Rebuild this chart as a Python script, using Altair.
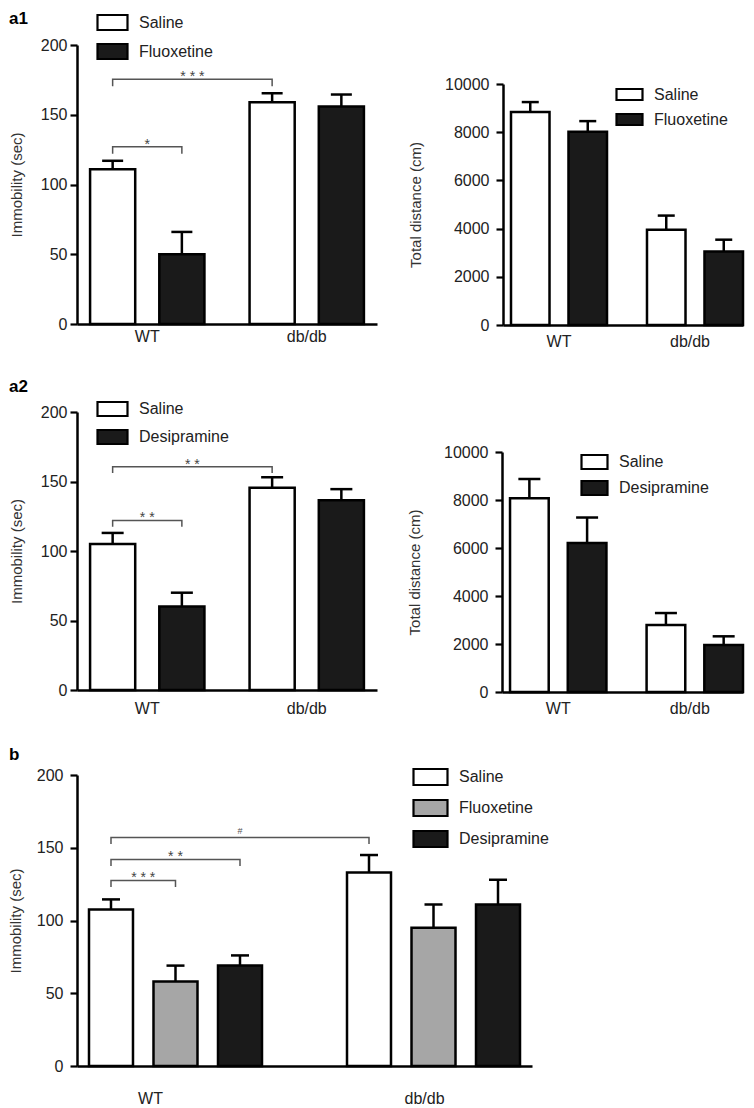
import altair as alt
import pandas as pd

FONT = "Liberation Sans"
groups = ["WT", "db/db"]

# ---------------- panel a1 ----------------
a1_treatments = ["Saline", "Fluoxetine"]
a1_imm_mean = [111, 50, 159, 156]          # WT-Saline, WT-Fluox, db-Saline, db-Fluox
a1_imm_err = [6, 16, 6.5, 8.5]
a1_dist_mean = [8840, 8020, 3950, 3050]
a1_dist_err = [410, 440, 590, 490]
a1_br_from_group = ["WT", "WT"]
a1_br_from_treat = ["Saline", "Saline"]
a1_br_to_group = ["db/db", "WT"]
a1_br_to_treat = ["Saline", "Fluoxetine"]
a1_br_height = [175.5, 127]
a1_br_label = ["* * *", "*"]

# ---------------- panel a2 ----------------
a2_treatments = ["Saline", "Desipramine"]
a2_imm_mean = [105, 60, 145.5, 136.5]
a2_imm_err = [8, 10, 7.5, 8]
a2_dist_mean = [8070, 6210, 2790, 1960]
a2_dist_err = [800, 1060, 500, 360]
a2_br_from_group = ["WT", "WT"]
a2_br_from_treat = ["Saline", "Saline"]
a2_br_to_group = ["db/db", "WT"]
a2_br_to_treat = ["Saline", "Desipramine"]
a2_br_height = [160.7, 122]
a2_br_label = ["* *", "* *"]

# ---------------- panel b ----------------
b_treatments = ["Saline", "Fluoxetine", "Desipramine"]
b_imm_mean = [107.5, 58, 69, 133, 95, 111]
b_imm_err = [7, 11, 7, 12, 16, 17]
b_br_from_group = ["WT", "WT", "WT"]
b_br_from_treat = ["Saline", "Saline", "Saline"]
b_br_to_group = ["db/db", "WT", "WT"]
b_br_to_treat = ["Saline", "Desipramine", "Fluoxetine"]
b_br_height = [157, 142, 127.5]
b_br_label = ["#", "* *", "* * *"]

imm_ticks = [0, 50, 100, 150, 200]
dist_ticks = [0, 2000, 4000, 6000, 8000, 10000]
panel_letters = ["a1", "a2", "b"]

WHITE, BLACK, GREY = "#ffffff", "#1a1a1a", "#a6a6a6"
W, H = 738, 1100          # whole drawing area (page minus the 8px margin)


def bars_frame(treatments, means, errs):
    rows, k = [], 0
    for g in groups:
        for t in treatments:
            rows.append({"group": g, "treat": t, "mean": means[k], "upper": means[k] + errs[k]})
            k += 1
    return pd.DataFrame(rows)


def bracket_frame(fg, ft, tg, tt, hs, labels, drop):
    return pd.DataFrame({"ga": fg, "ta": ft, "gb": tg, "tb": tt, "h": hs,
                         "low": [h - drop for h in hs], "label": labels})


def bracket_path(brdf):
    rows = []
    for i, r in brdf.iterrows():
        rows.append({"bid": i, "seq": 0, "group": r.ga, "treat": r.ta, "yv": r.low})
        rows.append({"bid": i, "seq": 1, "group": r.ga, "treat": r.ta, "yv": r.h})
        rows.append({"bid": i, "seq": 2, "group": r.gb, "treat": r.tb, "yv": r.h})
        rows.append({"bid": i, "seq": 3, "group": r.gb, "treat": r.tb, "yv": r.low})
    return pd.DataFrame(rows)


def make_legend(x, y, half, size, rowpad):
    return alt.Legend(title=None, orient="none", legendX=x, legendY=y, direction="vertical",
                      symbolType=f"M-1,-{half}H1V{half}H-1Z", symbolSize=size,
                      symbolStrokeColor="black", symbolStrokeWidth=2.2, symbolOpacity=1,
                      labelFontSize=16, labelColor="#222", labelOffset=10, labelFont=FONT,
                      rowPadding=rowpad, padding=0)


def make_panel(name, df, treatments, colors, ydomain, yvalues, xrange_, yrange, ytitle,
               xpad, offpad, cap, legend, xlab_offset, xlab_pad, ylab_pad, ytitle_pad,
               brdf=None):
    xscale = alt.Scale(domain=groups, range=xrange_, paddingInner=xpad[0],
                       paddingOuter=xpad[1], align=xpad[2])
    oscale = alt.Scale(domain=treatments, paddingInner=offpad, paddingOuter=0)
    yscale = alt.Scale(domain=ydomain, range=yrange, nice=False, zero=True)
    xaxis = alt.Axis(title=None, orient="bottom", offset=yrange[0] - H, ticks=False,
                     labelAngle=0, labelFontSize=16, labelColor="#222",
                     labelPadding=xlab_pad, domainColor="black", domainWidth=2.5,
                     labelOffset={"condition": {"test": "datum.value === 'WT'", "value": xlab_offset[0]},
                                  "value": xlab_offset[1]})
    yaxis = alt.Axis(title=ytitle, orient="left", offset=-xrange_[0], values=yvalues,
                     format="d", grid=False, labelFontSize=16,
                     labelColor="#222", labelPadding=ylab_pad, tickSize=7, tickWidth=2.2,
                     tickColor="black", domainColor="black", domainWidth=2.5,
                     titleFontSize=15, titleFontWeight="normal", titleColor="#333",
                     titlePadding=ytitle_pad)
    X = alt.X("group:N", scale=xscale, axis=xaxis)
    XO = alt.XOffset("treat:N", scale=oscale)

    def Y(f):
        return alt.Y(f, type="quantitative", scale=yscale, axis=yaxis)

    base = alt.Chart(df)
    bars = base.mark_bar(stroke="black", strokeWidth=2.5).encode(
        x=X, xOffset=XO, y=Y("mean"),
        fill=alt.Fill("treat:N", scale=alt.Scale(domain=treatments, range=colors), legend=legend))
    err = base.mark_rule(color="black", strokeWidth=2.5).encode(
        x=X, xOffset=XO, y=Y("mean"), y2="upper:Q")
    caps = base.mark_tick(color="black", thickness=2.5, size=cap, opacity=1).encode(
        x=X, xOffset=XO, y=Y("upper"))
    layers = [bars, err, caps]

    if brdf is not None:
        def xc(g, t):
            return (f"(scale('{name}_x', datum.{g}) + scale('{name}_xOffset', datum.{t}) "
                    f"+ bandwidth('{name}_xOffset') / 2)")

        mid = f"({xc('ga', 'ta')} + {xc('gb', 'tb')}) / 2"
        path = alt.Chart(bracket_path(brdf)).mark_line(color="#555", strokeWidth=1.5).encode(
            x=X, xOffset=XO, y=Y("yv"), detail="bid:N", order="seq:Q")
        bb = alt.Chart(brdf)
        stars = bb.transform_filter("datum.label !== '#'").mark_text(
            fontSize=14, color="#444", baseline="alphabetic", dy=2).encode(
            x=alt.value(alt.ExprRef(expr=mid)), y=Y("h"), text="label:N")
        hashes = bb.transform_filter("datum.label === '#'").mark_text(
            fontSize=9, color="#555", baseline="alphabetic", dy=-4).encode(
            x=alt.value(alt.ExprRef(expr=mid)), y=Y("h"), text="label:N")
        layers += [path, stars, hashes]

    return alt.layer(*layers).properties(name=name)


a1L = make_panel(
    "a1L", bars_frame(a1_treatments, a1_imm_mean, a1_imm_err), a1_treatments, [WHITE, BLACK],
    [0, 200], imm_ticks, [69, 369], [316, 37], "Immobility (sec)",
    (0.283, 0.082, 0.5), 0.348, 21, make_legend(88, -2, 0.5, 900, -6),
    (0, 0), 4, 3, 16,
    bracket_frame(a1_br_from_group, a1_br_from_treat, a1_br_to_group, a1_br_to_treat,
                  a1_br_height, a1_br_label, 5))

a1R = make_panel(
    "a1R", bars_frame(a1_treatments, a1_dist_mean, a1_dist_err), a1_treatments, [WHITE, BLACK],
    [0, 10000], dist_ticks, [495, 735], [317, 76], "Total distance (cm)",
    (0.294, 0.0294, 1), 0.33, 17, make_legend(607, 72, 0.423, 676, -2),
    (0, -5), 8, 7, 21)

a2L = make_panel(
    "a2L", bars_frame(a2_treatments, a2_imm_mean, a2_imm_err), a2_treatments, [WHITE, BLACK],
    [0, 200], imm_ticks, [69, 369], [682, 404], "Immobility (sec)",
    (0.283, 0.082, 0.5), 0.348, 22, make_legend(88, 384.5, 0.467, 900, -8),
    (0, 0), 10, 3, 16,
    bracket_frame(a2_br_from_group, a2_br_from_treat, a2_br_to_group, a2_br_to_treat,
                  a2_br_height, a2_br_label, 4.5))

a2R = make_panel(
    "a2R", bars_frame(a2_treatments, a2_dist_mean, a2_dist_err), a2_treatments, [WHITE, BLACK],
    [0, 10000], dist_ticks, [494, 735], [684, 444], "Total distance (cm)",
    (0.294, 0.0294, 1), 0.33, 22, make_legend(572, 439.5, 0.538, 676, -3),
    (0, -5), 8, 7, 21)

bP = make_panel(
    "bP", bars_frame(b_treatments, b_imm_mean, b_imm_err), b_treatments, [WHITE, GREY, BLACK],
    [0, 200], imm_ticks, [69, 524], [1058, 767], "Immobility (sec)",
    (0.3295, 0.0465, 0.5), 0.318, 18, make_legend(404, 750.5, 0.47, 1156, -7),
    (-25, -9), 24, 7, 13,
    bracket_frame(b_br_from_group, b_br_from_treat, b_br_to_group, b_br_to_treat,
                  b_br_height, b_br_label, 4.5))

letters = alt.Chart(pd.DataFrame({"letter": panel_letters, "row": [0, 1, 2]})).mark_text(
    fontSize=17, fontWeight="bold", color="black", align="left", baseline="top").encode(
    x=alt.value(1),
    y=alt.Y("row:Q", scale=alt.Scale(domain=[0, 2], range=[3, 739]), axis=None),
    text="letter:N")

chart = (
    alt.layer(a1L, a1R, a2L, a2R, bP, letters)
    .resolve_scale(x="independent", y="independent", xOffset="independent", fill="independent")
    .resolve_axis(x="independent", y="independent")
    .resolve_legend(fill="independent")
    .properties(width=W, height=H, autosize=alt.AutoSizeParams(type="none"), padding=0)
    .configure(font=FONT)
    .configure_view(stroke="transparent")
)

chart.save("out.html", embed_options={"renderer": "svg", "actions": False})
